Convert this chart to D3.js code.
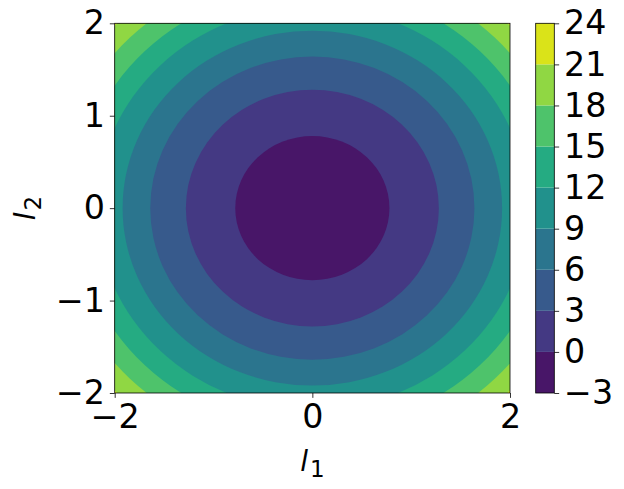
<!DOCTYPE html>
<html>
<head>
  <meta charset="utf-8">
  <title>Contour of l1, l2</title>
  <style>
    body { margin: 0; background: #fff; }
    text { font-family: 'DejaVu Sans', sans-serif; fill: #000; }
  </style>
</head>
<body>
  <div id="chart-container"></div>
  <script src="https://d3js.org/d3.v7.min.js"></script>
  <script>
    // contour levels (colorbar ticks)
    const levels = [-3, 0, 3, 6, 9, 12, 15, 18, 21, 24];
    // radius (in l units) where each boundary level 0..21 sits
    const boundaryLevels = [0, 3, 6, 9, 12, 15, 18, 21];
    const boundaryRadii = [0.78, 1.28, 1.64, 1.92, 2.18, 2.40, 2.61, 2.81];
    const xTicks = [-2, 0, 2];
    const yTicks = [-2, -1, 0, 1, 2];

    const width = 624;
    const height = 489;
    const plot = { left: 114.7, right: 510, top: 23.3, bottom: 393 };
    const cbar = { left: 535.7, right: 554.3 };
    const tickLen = 4.86;
    const tickFont = 33.3;

    const svg = d3.select('#chart-container')
      .append('svg')
      .attr('width', width)
      .attr('height', height);

    const xScale = d3.scaleLinear().domain([-2, 2]).range([plot.left, plot.right]);
    const yScale = d3.scaleLinear().domain([-2, 2]).range([plot.bottom, plot.top]);
    const cScale = d3.scaleLinear().domain([-3, 24]).range([plot.bottom, plot.top]);

    // band i between levels[i] and levels[i+1]
    const nBands = levels.length - 1;
    const bandColor = i => d3.interpolateViridis((i + 0.5) / nBands);

    svg.append('clipPath')
      .attr('id', 'plot-clip')
      .append('rect')
      .attr('x', plot.left)
      .attr('y', plot.top)
      .attr('width', plot.right - plot.left)
      .attr('height', plot.bottom - plot.top);

    const g = svg.append('g').attr('clip-path', 'url(#plot-clip)');

    // outermost band fills the whole area, then nested ellipses on top
    g.append('rect')
      .attr('x', plot.left)
      .attr('y', plot.top)
      .attr('width', plot.right - plot.left)
      .attr('height', plot.bottom - plot.top)
      .attr('fill', bandColor(nBands - 1));

    const rings = boundaryLevels.map((lv, i) => ({ level: lv, r: boundaryRadii[i] }))
      .sort((a, b) => b.r - a.r);

    g.selectAll('ellipse')
      .data(rings)
      .enter()
      .append('ellipse')
      .attr('cx', xScale(0))
      .attr('cy', yScale(0))
      .attr('rx', d => xScale(d.r) - xScale(0))
      .attr('ry', d => yScale(0) - yScale(d.r))
      .attr('fill', d => bandColor(levels.indexOf(d.level) - 1));

    // axes
    const fmt = d3.format('d');
    const xAxis = d3.axisBottom(xScale).tickValues(xTicks).tickFormat(fmt).tickSize(tickLen).tickPadding(tickLen);
    const yAxis = d3.axisLeft(yScale).tickValues(yTicks).tickFormat(fmt).tickSize(tickLen).tickPadding(tickLen);

    const gx = svg.append('g').attr('transform', `translate(0,${plot.bottom})`).call(xAxis);
    const gy = svg.append('g').attr('transform', `translate(${plot.left},0)`).call(yAxis);
    [gx, gy].forEach(a => {
      a.select('.domain').remove();
      a.selectAll('.tick line').attr('stroke', '#000').attr('stroke-width', 0.8);
      a.selectAll('.tick text').attr('font-size', tickFont).attr('font-family', 'DejaVu Sans').attr('fill', '#000');
    });
    gx.selectAll('.tick text').attr('dy', '0.76em');

    svg.append('rect')
      .attr('x', plot.left)
      .attr('y', plot.top)
      .attr('width', plot.right - plot.left)
      .attr('height', plot.bottom - plot.top)
      .attr('fill', 'none')
      .attr('stroke', '#000')
      .attr('stroke-width', 0.8);

    // axis titles (italic l with subscript)
    const xTitle = svg.append('text')
      .attr('x', xScale(0))
      .attr('y', 470.7)
      .attr('text-anchor', 'middle')
      .attr('font-size', 28);
    xTitle.append('tspan').attr('font-style', 'italic').text('l');
    xTitle.append('tspan').attr('font-size', 23).attr('dx', 2).attr('dy', 6).text('1');

    const yTitle = svg.append('text')
      .attr('transform', `translate(35,${yScale(0)}) rotate(-90)`)
      .attr('text-anchor', 'middle')
      .attr('font-size', 28);
    yTitle.append('tspan').attr('font-style', 'italic').text('l');
    yTitle.append('tspan').attr('font-size', 23).attr('dx', 2).attr('dy', 6).text('2');

    // colorbar
    svg.append('g')
      .selectAll('rect')
      .data(d3.range(nBands))
      .enter()
      .append('rect')
      .attr('x', cbar.left)
      .attr('y', i => cScale(levels[i + 1]))
      .attr('width', cbar.right - cbar.left)
      .attr('height', i => cScale(levels[i]) - cScale(levels[i + 1]))
      .attr('fill', i => bandColor(i));

    const cAxis = d3.axisRight(cScale).tickValues(levels).tickFormat(fmt).tickSize(tickLen).tickPadding(tickLen);
    const gc = svg.append('g').attr('transform', `translate(${cbar.right},0)`).call(cAxis);
    gc.select('.domain').remove();
    gc.selectAll('.tick line').attr('stroke', '#000').attr('stroke-width', 0.8);
    gc.selectAll('.tick text').attr('font-size', tickFont).attr('font-family', 'DejaVu Sans').attr('fill', '#000');

    svg.append('rect')
      .attr('x', cbar.left)
      .attr('y', plot.top)
      .attr('width', cbar.right - cbar.left)
      .attr('height', plot.bottom - plot.top)
      .attr('fill', 'none')
      .attr('stroke', '#000')
      .attr('stroke-width', 0.8);
  </script>
</body>
</html>
